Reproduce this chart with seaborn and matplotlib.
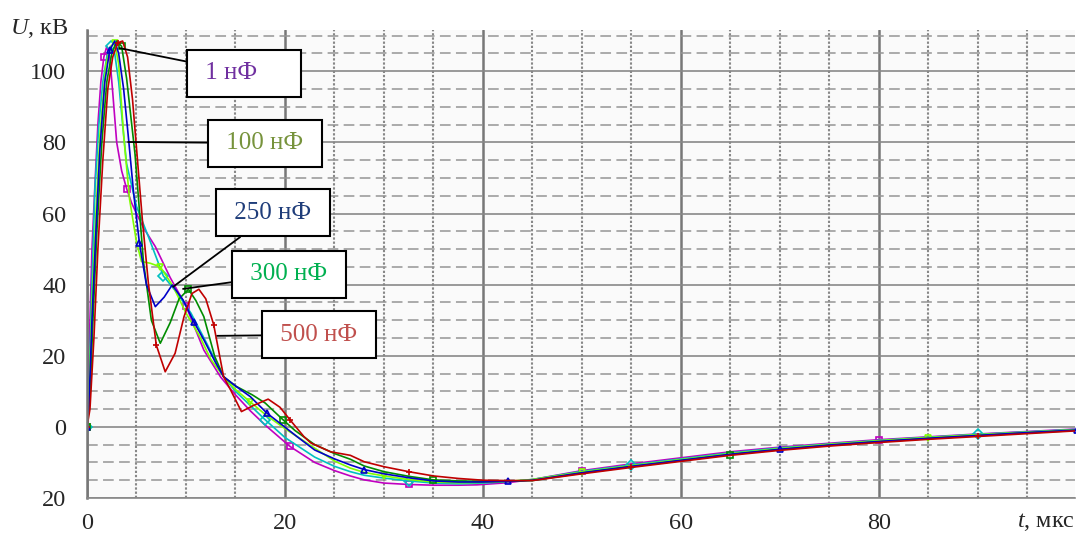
import matplotlib
matplotlib.use("Agg")
import matplotlib.pyplot as plt
import seaborn as sns
import pandas as pd
from matplotlib.ticker import MultipleLocator, FixedLocator, FixedFormatter

# Кривые напряжения U(t), кВ, для разных ёмкостей
t_magenta = [0, 0.2, 0.5, 0.8, 1.1, 1.4, 1.7, 2.0, 2.3, 2.6, 3.0, 3.5, 4.0, 4.5, 5.0, 5.7, 6.9, 8.4, 10.0, 11.8, 13.5, 15, 16.5, 18, 20.5, 23, 25, 26.6, 28, 30, 32.5, 35, 37.5, 39.4, 42.5, 45, 50, 55, 60, 65, 70, 75, 80, 85, 90, 95, 100]
u_magenta = [0, 20, 50, 68, 85, 97, 104, 107, 104, 94, 80, 72, 67, 63, 60, 56, 50.7, 42, 34, 21.6, 14, 9, 4.5, 0.5, -5.5, -10, -12.3, -13.8, -14.9, -15.8, -16.2, -16.4, -16.4, -16.3, -15.7, -14.8, -12.3, -10.4, -8.7, -7.0, -5.7, -4.6, -3.6, -2.8, -2.0, -1.3, -0.6]

t_cyan = [0, 0.15, 0.5, 0.8, 1.2, 1.6, 2.0, 2.4, 2.8, 3.2, 3.6, 4.0, 5.0, 6.2, 7.7, 9.0, 10.5, 12, 13.8, 15, 16.5, 18, 20, 23, 25, 26.6, 28, 30, 32.5, 35, 37.5, 40, 42.5, 45, 50, 55, 60, 65, 70, 75, 80, 85, 90, 95, 100]
u_cyan = [0, 7, 40, 67, 85, 97, 104, 107, 105, 97, 85, 74, 62, 53.5, 42.5, 38, 32, 24, 14.1, 10, 6, 2, -3, -8.5, -11.1, -12.6, -13.6, -14.4, -15.2, -15.8, -16.0, -15.8, -15.4, -14.8, -12.5, -10.7, -9.0, -7.3, -5.9, -4.8, -3.8, -2.9, -2.1, -1.4, -0.7]

t_lime = [0, 0.2, 0.5, 0.9, 1.3, 1.9, 2.4, 2.8, 3.2, 3.7, 4.3, 5.0, 5.5, 6.4, 7.4, 8.7, 10, 11.4, 12.5, 13.8, 15, 16.5, 18, 20, 23, 25, 26.6, 28, 30, 32.5, 35, 37.5, 40, 42.5, 45, 50, 55, 60, 65, 70, 75, 80, 85, 90, 95, 100]
u_lime = [0, 8, 35, 60, 82, 101.8, 107, 108, 102, 82, 64, 52, 46.5, 46, 45, 39.5, 32, 25.4, 19, 14.1, 10.5, 7, 3.5, -0.5, -6, -9.6, -11.6, -12.8, -13.8, -14.8, -15.5, -15.7, -15.6, -15.3, -14.8, -12.7, -10.9, -9.2, -7.5, -6.1, -4.9, -3.9, -3.0, -2.2, -1.5, -0.8]

t_blue = [0, 0.2, 0.5, 0.9, 1.3, 1.8, 2.3, 2.8, 3.2, 3.7, 4.2, 4.7, 5.3, 6.0, 6.9, 7.8, 8.6, 9.7, 10.8, 11.8, 13, 13.8, 15, 16.5, 18.2, 19.5, 21.2, 23, 25, 26.6, 28, 30, 32.5, 35, 37.5, 40, 42.5, 45, 50, 55, 60, 65, 70, 75, 80, 85, 90, 95, 100]
u_blue = [0, 6, 30, 55, 78, 97, 106, 108.5, 105, 95, 80.9, 66, 51.6, 40, 33.8, 36.5, 39.9, 35.7, 29.5, 24.5, 18, 14.1, 11.5, 8.5, 3.8, 1.0, -2.7, -6.5, -9.0, -10.7, -12.0, -13.2, -14.3, -15.2, -15.5, -15.5, -15.3, -15.0, -12.9, -11.1, -9.4, -7.7, -6.3, -5.1, -4.1, -3.2, -2.4, -1.6, -0.9]

t_green = [0, 0.3, 0.6, 1.0, 1.5, 2.0, 2.5, 3.0, 3.5, 4.0, 4.85, 5.7, 6.5, 7.4, 8.4, 9.3, 10.25, 11.0, 11.8, 12.9, 13.8, 15, 16.7, 18, 19.8, 21, 23, 25, 26.6, 28, 30, 32.5, 35, 37.5, 40, 42.5, 45, 50, 55, 60, 65, 70, 75, 80, 85, 90, 95, 100]
u_green = [0, 8, 30, 55, 80, 97, 105, 108.5, 107, 98, 76.7, 46.5, 30, 23.5, 29.3, 36, 38.7, 35.5, 31, 19.8, 14.1, 11.5, 9.0, 6.7, 2.0, -1.0, -5.0, -7.5, -9.1, -11.0, -12.6, -13.9, -14.9, -15.2, -15.3, -15.3, -15.1, -13.0, -11.2, -9.5, -7.8, -6.4, -5.2, -4.2, -3.3, -2.5, -1.7, -1.0]

t_red = [0, 0.3, 0.7, 1.1, 1.6, 2.1, 2.6, 3.1, 3.6, 4.1, 4.6, 5.1, 5.6, 6.2, 7.0, 7.9, 8.9, 9.8, 10.6, 11.3, 12.0, 12.8, 13.8, 14.5, 15.6, 16.8, 18.3, 19.5, 20.5, 21.9, 22.6, 24.6, 26.6, 28, 30, 32.5, 35, 37.5, 40, 42.5, 45, 50, 55, 60, 65, 70, 75, 80, 85, 90, 95, 100]
u_red = [0, 5, 25, 50, 75, 95, 104, 108, 108.5, 104, 92, 75, 58, 40.4, 23, 15.5, 20.7, 31, 37.5, 38.7, 36, 28.7, 14.1, 10.4, 4.3, 6.0, 7.8, 5.5, 2.0, -2.7, -4.5, -7.0, -8.0, -9.8, -11.2, -12.6, -13.8, -14.5, -15.0, -15.1, -15.1, -13.2, -11.4, -9.7, -8.0, -6.6, -5.4, -4.4, -3.5, -2.7, -1.9, -1.1]

# подписи-выноски
labels = ["1 нФ", "100 нФ", "250 нФ", "300 нФ", "500 нФ"]
label_colors = ["#7030a0", "#77933c", "#1f3d7a", "#00b050", "#c0504d"]
label_xy = [(3.3, 106.5), (4.15, 80.1), (8.7, 39.4), (9.7, 38.8), (13.15, 25.6)]
label_text_xy = [(11.33, 99.5), (13.45, 79.8), (14.26, 60.2), (15.88, 42.9), (18.92, 25.9)]

yticks = [-20, 0, 20, 40, 60, 80, 100]
ytick_labels = ["20", "0", "20", "40", "60", "80", "100"]
xticks = [0, 20, 40, 60, 80]
xtick_labels = ["0", "20", "40", "60", "80"]

series = [
    (t_magenta, u_magenta, "#c000c0", "s", 6),
    (t_cyan, u_cyan, "#00c0c0", "D", 7),
    (t_lime, u_lime, "#80ff00", "v", 7),
    (t_green, u_green, "#008c00", "s", 8),
    (t_blue, u_blue, "#0000c8", "^", 6),
    (t_red, u_red, "#c00000", "+", 7),
]

sns.set_style("white")
plt.rcParams["font.family"] = ["Liberation Serif", "DejaVu Serif"]
plt.rcParams["mathtext.fontset"] = "custom"
plt.rcParams["mathtext.it"] = "Liberation Serif:italic"
plt.rcParams["mathtext.rm"] = "Liberation Serif"

fig = plt.figure(figsize=(10.81, 5.36), dpi=100)
ax = fig.add_axes([87 / 1081, 1 - 498 / 536, (1075 - 87) / 1081, (498 - 30) / 536])
ax.set_facecolor("#fafafa")

for t, u, col, mk, every in series:
    df = pd.DataFrame({"t": t, "u": u})
    sns.lineplot(data=df, x="t", y="u", ax=ax, color=col, lw=1.2,
                 marker=mk, markevery=every, markersize=5,
                 markerfacecolor="none", markeredgecolor=col, markeredgewidth=1.2,
                 estimator=None, sort=False, legend=False)

ax.set_xlim(0, 99.8)
ax.set_ylim(-20, 111.6)
ax.xaxis.set_major_locator(FixedLocator(xticks))
ax.xaxis.set_major_formatter(FixedFormatter(xtick_labels))
ax.yaxis.set_major_locator(FixedLocator(yticks))
ax.yaxis.set_major_formatter(FixedFormatter(ytick_labels))
ax.xaxis.set_minor_locator(MultipleLocator(5))
ax.yaxis.set_minor_locator(MultipleLocator(5))

ax.xaxis.grid(True, which="major", color="#777777", lw=1.8)
ax.yaxis.grid(True, which="major", color="#888888", lw=1.2)
ax.xaxis.grid(True, which="minor", color="#888888", lw=1.5, linestyle=(0, (1.1, 0.9)))
ax.yaxis.grid(True, which="minor", color="#959595", lw=1.1, linestyle=(0, (7, 3.5)))
ax.set_axisbelow(True)

for s in ["top", "right"]:
    ax.spines[s].set_visible(False)
ax.spines["left"].set_color("#777777")
ax.spines["left"].set_linewidth(1.8)
ax.spines["bottom"].set_color("#888888")
ax.spines["bottom"].set_linewidth(1.2)

ax.tick_params(axis="x", which="both", length=0, pad=11, labelsize=17.5)
ax.tick_params(axis="y", which="major", length=7, width=1.2, color="#888888", pad=8, labelsize=17.5)
ax.tick_params(axis="y", which="minor", length=0)
ax.set_xlabel("")
ax.set_ylabel("")

for lab, col, xy, txy in zip(labels, label_colors, label_xy, label_text_xy):
    text = " " + lab + " "
    if lab == "1 нФ":
        text = " " + lab + "     "
    ax.annotate(text, xy=xy, xytext=txy, textcoords="data", ha="left", va="center",
                color=col, fontsize=18,
                bbox=dict(boxstyle="square,pad=0.5", fc="white", ec="black", lw=1.5),
                arrowprops=dict(arrowstyle="-", color="black", lw=1.3, shrinkA=0, shrinkB=0))

fig.text(10 / 1081, 1 - 28 / 536, "$U$, кВ", ha="left", va="center", fontsize=17.5)
fig.text(1075 / 1081, 1 - 522 / 536, "$t$, мкс", ha="right", va="center", fontsize=17.5)

fig.savefig("out.png", dpi=100)
